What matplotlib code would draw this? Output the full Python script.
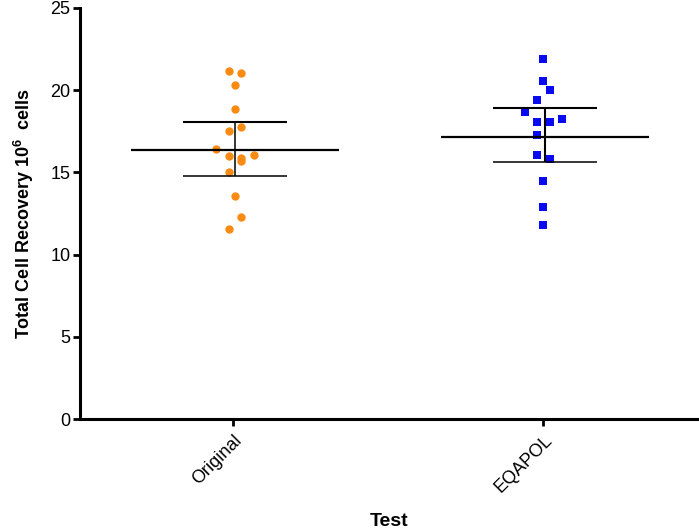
import matplotlib
matplotlib.use("Agg")
import matplotlib.pyplot as plt
import numpy as np

plt.rcParams['font.family'] = ['Liberation Sans', 'DejaVu Sans']
plt.rcParams['mathtext.fontset'] = 'custom'
plt.rcParams['mathtext.bf'] = 'Liberation Sans:bold'
plt.rcParams['mathtext.rm'] = 'Liberation Sans'

categories = ["Original", "EQAPOL"]

original_values = [21.19, 21.07, 20.30, 18.88, 17.50, 17.76, 16.40, 16.00,
                   15.89, 15.69, 16.08, 15.01, 13.58, 12.27, 11.56]
original_jitter = [-0.02, 0.02, 0.0, 0.0, -0.02, 0.02, -0.06, -0.02,
                   0.02, 0.02, 0.06, -0.02, 0.0, 0.02, -0.02]

eqapol_values = [21.88, 20.58, 19.99, 19.39, 18.66, 18.27, 18.09, 18.05,
                 17.27, 16.08, 15.80, 14.46, 12.88, 11.78]
eqapol_jitter = [0.0, 0.0, 0.02, -0.02, -0.06, 0.06, -0.02, 0.02,
                 -0.02, -0.02, 0.02, 0.0, 0.0, 0.0]

centers = [16.36, 17.17]
upper = [18.08, 18.90]
lower = [14.80, 15.63]

fig = plt.figure(figsize=(6.99, 5.28), dpi=100)
ax = fig.add_axes([80/699, 109/528, 619/699, 411/528])

ax.scatter(np.array(original_jitter) + 0.005, original_values, s=36, marker='o',
           color='#F98A12', linewidths=0, zorder=3)
ax.scatter(np.array(eqapol_jitter) + 1.0, eqapol_values, s=36, marker='s',
           color='#0A0AF0', linewidths=0, zorder=3)

for i in range(2):
    xc = i + 0.005
    ax.hlines(centers[i], xc - 0.335, xc + 0.335, color='black', lw=1.6, zorder=4)
    ax.hlines(upper[i], xc - 0.168, xc + 0.168, color='black', lw=1.5, zorder=4)
    ax.hlines(lower[i], xc - 0.168, xc + 0.168, color='black', lw=1.1, zorder=4)
    ax.vlines(xc, lower[i], upper[i], color='black', lw=1.1 + 0.4 * i, zorder=4)

ax.set_xlim(-0.495, 1.502)
ax.set_ylim(0, 25)
ax.set_yticks([0, 5, 10, 15, 20, 25])
ax.set_xticks([0, 1])
ax.set_xticklabels(categories, rotation=45, ha='right', rotation_mode='anchor',
                   fontsize=13)
ax.tick_params(axis='y', labelsize=13, width=2, length=5, direction='out', pad=2)
ax.tick_params(axis='x', width=2, length=5, direction='out', pad=4)

for s in ['top', 'right']:
    ax.spines[s].set_visible(False)
for s in ['left', 'bottom']:
    ax.spines[s].set_linewidth(2.2)

ax.set_ylabel(r'Total Cell Recovery 10$^{\mathbf{6}}$  cells', fontsize=13,
              fontweight='bold', labelpad=10)
ax.set_xlabel('Test', fontsize=14, fontweight='bold', labelpad=12)

fig.savefig('out.png', dpi=100)
